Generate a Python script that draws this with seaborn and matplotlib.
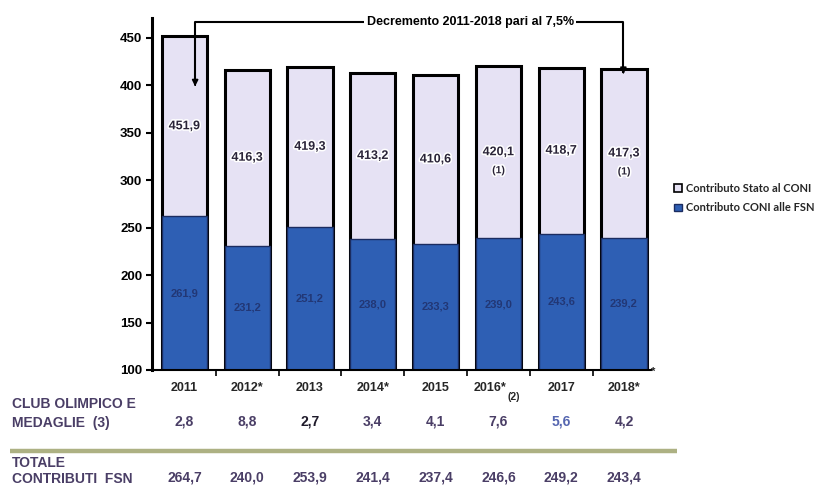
import numpy as np
import pandas as pd
import matplotlib
matplotlib.use("Agg")
import matplotlib.pyplot as plt
import matplotlib.transforms as mtransforms
import matplotlib.patheffects as pe
from matplotlib.lines import Line2D
from matplotlib.patches import Patch
import seaborn as sns

# --- data -------------------------------------------------------------
years = ["2011", "2012*", "2013", "2014*", "2015", "2016*", "2017", "2018*"]
stato_coni = [451.9, 416.3, 419.3, 413.2, 410.6, 420.1, 418.7, 417.3]   # Contributo Stato al CONI
coni_fsn = [261.9, 231.2, 251.2, 238.0, 233.3, 239.0, 243.6, 239.2]     # Contributo CONI alle FSN
club_olimpico = [2.8, 8.8, 2.7, 3.4, 4.1, 7.6, 5.6, 4.2]
totale_fsn = [264.7, 240.0, 253.9, 241.4, 237.4, 246.6, 249.2, 243.4]
note_marks = ["", "", "", "", "", "(1)", "", "(1)"]
year_notes = ["", "", "", "", "", "(2)", "", ""]
y_ticks = [100, 150, 200, 250, 300, 350, 400, 450]
decrement_text = "Decremento 2011-2018 pari al 7,5%"
legend_labels = ["Contributo Stato al CONI", "Contributo CONI alle FSN"]


def it(v):
    return f"{v:.1f}".replace(".", ",")


LAV = "#e6e2f4"
BLUE = "#2e5fb4"
PURPLE = "#4a3e66"

sns.set_theme(style="white")
plt.rcParams["font.family"] = ["Liberation Sans", "DejaVu Sans"]

W, H = 830, 495
fig = plt.figure(figsize=(W / 100, H / 100), dpi=100)
ax = fig.add_axes([152 / W, 1 - 370 / H, (651 - 152) / W, (370 - 18) / H])

df = pd.DataFrame({"anno": years, "stato": stato_coni, "fsn": coni_fsn})
sns.barplot(data=df, x="anno", y="stato", color=LAV, edgecolor="black",
            linewidth=2.2, width=0.72, saturation=1, errorbar=None, ax=ax)
sns.barplot(data=df, x="anno", y="fsn", color=BLUE, edgecolor="#1b2c60",
            linewidth=1.0, width=0.72, saturation=1, errorbar=None, ax=ax)

ax.set_ylim(100, 471)
ax.set_xlim(-0.517, 7.43)
ax.set_xlabel("")
ax.set_ylabel("")

ax.set_yticks(y_ticks)
ax.set_yticklabels([str(t) for t in y_ticks], fontsize=9.5, fontweight="bold")
ax.tick_params(axis="y", left=True, length=4, width=1.5, direction="out",
               pad=3, colors="black")
ax.set_xticks(range(len(years)))
ax.set_xticklabels([""] * len(years))
ax.tick_params(axis="x", bottom=True, length=0)
ax.set_xticks(np.arange(0.5, 7, 1), minor=True)
ax.tick_params(axis="x", which="minor", bottom=True, length=4, width=1.2,
               direction="out", color="black")

# year labels under the bars (with footnote subscript where present)
trans = mtransforms.blended_transform_factory(ax.transData, fig.transFigure)
for i, (yr, note) in enumerate(zip(years, year_notes)):
    if note:
        ax.text(i + 0.12, 1 - 388 / H, yr, transform=trans, ha="right",
                va="center", fontsize=9, fontweight="bold")
        ax.text(i + 0.14, 1 - 397 / H, note, transform=trans, ha="left",
                va="center", fontsize=7.5, fontweight="bold")
    else:
        ax.text(i, 1 - 388 / H, yr, transform=trans, ha="center",
                va="center", fontsize=9, fontweight="bold")

for s in ["top", "right"]:
    ax.spines[s].set_visible(False)
ax.spines["left"].set_linewidth(2.2)
ax.spines["left"].set_color("black")
ax.spines["bottom"].set_linewidth(1.5)
ax.spines["bottom"].set_color("black")

# value labels inside the bars
halo = [pe.withStroke(linewidth=2.2, foreground="white")]
for i in range(len(years)):
    mid = (coni_fsn[i] + stato_coni[i]) / 2
    ax.text(i, mid, it(stato_coni[i]), ha="center", va="center",
            fontsize=9, fontweight="bold", color="#2a2438",
            path_effects=halo, zorder=5)
    if note_marks[i]:
        ax.text(i, mid - 19, note_marks[i], ha="center", va="center",
                fontsize=7.5, fontweight="bold", color="#2a2438",
                path_effects=halo, zorder=5)
    ax.text(i, (100 + coni_fsn[i]) / 2, it(coni_fsn[i]), ha="center",
            va="center", fontsize=8, fontweight="bold", color="#223775",
            zorder=5)

# decrement bracket from 2011 to 2018
y_br = 466.7
ax.plot([0.17, 0.17, 6.99, 6.99], [401, y_br, y_br, 414], color="black",
        lw=1.5, clip_on=False, zorder=6)
for x0, ytip in [(0.17, 396), (6.99, 409)]:
    ax.annotate("", xy=(x0, ytip), xytext=(x0, ytip + 9),
                arrowprops=dict(arrowstyle="-|>", color="black", lw=1.2,
                                mutation_scale=9), zorder=7)
ax.text(4.55, y_br, decrement_text, ha="center", va="center", fontsize=9,
        fontweight="bold", color="black", zorder=8, clip_on=False,
        bbox=dict(facecolor="white", edgecolor="none", pad=1.5))

fig.text(651 / W, 1 - 372 / H, "*", fontsize=8, fontweight="bold",
         ha="left", va="center")

# legend
handles = [Patch(facecolor=LAV, edgecolor="black", linewidth=1.2),
           Patch(facecolor=BLUE, edgecolor="#1b2c60", linewidth=1.0)]
fig.legend(handles, legend_labels, loc="upper left",
           bbox_to_anchor=(674 / W, 1 - 183 / H), frameon=False,
           prop=dict(family="Lato", weight="bold", size=8),
           handlelength=0.7, handleheight=0.7, handletextpad=0.4,
           labelspacing=0.75, borderaxespad=0, borderpad=0)

# table under the chart
fig.text(12 / W, 1 - 404 / H, "CLUB OLIMPICO E", fontsize=10,
         fontweight="bold", color=PURPLE, va="center")
fig.text(12 / W, 1 - 423 / H, "MEDAGLIE  (3)", fontsize=10,
         fontweight="bold", color=PURPLE, va="center")
club_colors = [PURPLE, PURPLE, "#1e1a2a", PURPLE, PURPLE, PURPLE, "#5566b0", PURPLE]
for i, v in enumerate(club_olimpico):
    ax.text(i, 1 - 421 / H, it(v), transform=trans, ha="center", va="center",
            fontsize=10, fontweight="bold", color=club_colors[i])

fig.add_artist(Line2D([10 / W, 677 / W], [1 - 451 / H, 1 - 451 / H],
                      color="#adb183", lw=3.2, solid_capstyle="butt"))

fig.text(12 / W, 1 - 463 / H, "TOTALE", fontsize=10, fontweight="bold",
         color=PURPLE, va="center")
fig.text(12 / W, 1 - 479 / H, "CONTRIBUTI  FSN", fontsize=10,
         fontweight="bold", color=PURPLE, va="center")
for i, v in enumerate(totale_fsn):
    ax.text(i, 1 - 477 / H, it(v), transform=trans, ha="center", va="center",
            fontsize=10, fontweight="bold", color=PURPLE)

fig.savefig("out.png", dpi=100)
